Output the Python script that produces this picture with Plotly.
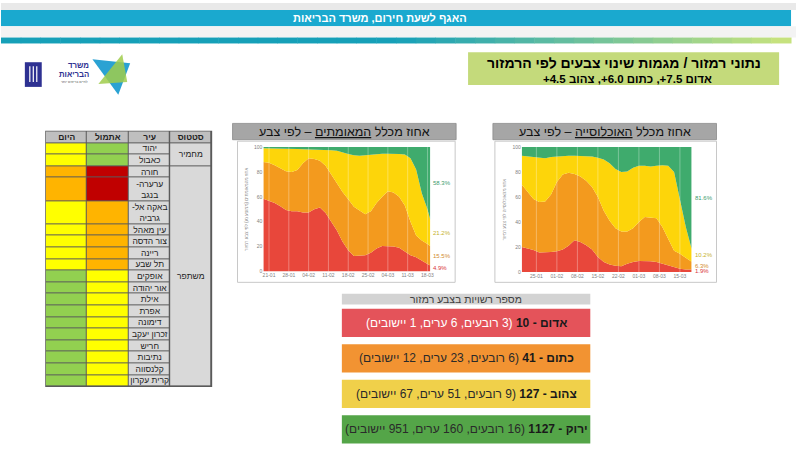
import plotly.graph_objects as go

FONT = "Liberation Sans, Arial, DejaVu Sans, sans-serif"
W, H = 800, 463

# share of confirmed cases by traffic-light colour (%)
cases_dates = ["2021-01-19", "2021-01-21", "2021-01-23", "2021-01-25", "2021-01-27", "2021-01-29", "2021-01-31",
               "2021-02-02", "2021-02-04", "2021-02-06", "2021-02-08", "2021-02-10", "2021-02-12", "2021-02-14",
               "2021-02-16", "2021-02-18", "2021-02-20", "2021-02-22", "2021-02-24", "2021-02-26", "2021-02-28",
               "2021-03-02", "2021-03-04", "2021-03-06", "2021-03-08", "2021-03-10", "2021-03-12", "2021-03-14",
               "2021-03-16", "2021-03-18", "2021-03-19"]
cases_red = [58.5, 57, 55, 52.5, 49.5, 48.5, 48.5, 47.5, 47.5, 50, 51.5, 47, 40, 33, 24, 17, 12.5, 13, 13, 15,
             18.5, 20.5, 20.5, 20, 19, 16, 13, 11.5, 8.5, 6, 4.9]
cases_orange = [29.5, 30.5, 30.5, 30.5, 31, 31.5, 33, 39.5, 43.5, 40.5, 37.5, 38, 38, 37.5, 40, 41, 39.5, 36, 33,
                33.5, 36.5, 39.5, 44, 43.5, 41, 37, 27, 17.5, 16.5, 16, 15.5]
cases_yellow = [11, 11.5, 13.5, 16, 18.3, 18.5, 17, 11.3, 7.2, 7.5, 9, 12.8, 19.5, 26.5, 31.5, 36.5, 41.5, 44, 47.5,
                45.5, 39.5, 34.7, 30.2, 31.2, 34.5, 41, 51, 53, 38, 28, 21.2]
cases_green = [1, 1, 1, 1, 1.2, 1.5, 1.5, 1.7, 1.8, 2, 2, 2.2, 2.5, 3, 4.5, 5.5, 6.5, 7, 6.5, 6, 5.5, 5.3, 5.3, 5.3,
               5.5, 6, 9, 18, 37, 50, 58.3]
cases_ticks = ["2021-01-21", "2021-01-28", "2021-02-04", "2021-02-11", "2021-02-18", "2021-02-25", "2021-03-04",
               "2021-03-11", "2021-03-18"]

# share of population by colour (%), right chart
pop_dates = ["2021-01-20", "2021-01-22", "2021-01-24", "2021-01-26", "2021-01-28", "2021-01-30",
             "2021-02-01", "2021-02-03", "2021-02-05", "2021-02-07", "2021-02-09", "2021-02-11", "2021-02-13",
             "2021-02-15", "2021-02-17", "2021-02-19", "2021-02-21", "2021-02-23", "2021-02-25", "2021-02-27",
             "2021-03-01", "2021-03-03", "2021-03-05", "2021-03-07", "2021-03-09", "2021-03-11", "2021-03-13",
             "2021-03-15", "2021-03-17", "2021-03-19"]
pop_red = [20, 19, 17.5, 15.5, 15.5, 16, 16.5, 18, 21, 25.5, 24, 21.5, 18, 12, 8, 6, 5, 4.5, 6.5, 8,
           8.7, 8.7, 8.5, 8, 6.5, 5, 3.5, 2.5, 2, 1.9]
pop_orange = [50, 45.5, 41, 40.5, 41, 46, 55.5, 60, 58.5, 53, 52.5, 51.5, 50, 48, 41, 35, 30, 28, 26, 27,
              31.3, 35.3, 35, 35, 29.5, 22, 13.5, 12, 9, 6.3]
pop_yellow = [23, 28, 33, 35, 34.5, 30, 20.5, 15, 13.5, 14.5, 16.5, 20, 24.5, 31.5, 41, 46, 47.5, 47.5, 48, 48.5,
              45, 41, 41, 42, 49.5, 58, 63, 43.5, 25, 10.2]
pop_green = [7, 7.5, 8.5, 9, 9, 8, 7.5, 7, 7, 7, 7, 7, 7.5, 8.5, 10, 13, 17.5, 20, 19.5, 16.5,
             15, 15, 15.5, 15, 14.5, 15, 20, 42, 64, 81.6]
pop_ticks = ["2021-01-25", "2021-02-01", "2021-02-08", "2021-02-15", "2021-02-22", "2021-03-01", "2021-03-08",
             "2021-03-15"]

# city table
table_columns = ["היום", "אתמול", "עיר", "סטטוס"]
cities = ["יהוד", "כאבול", "חורה", "ערערה-<br>בנגב", "באקה אל-<br>גרביה", "עין מאהל", "צור הדסה", "ריינה",
          "תל שבע", "אופקים", "אור יהודה", "אילת", "אפרת", "דימונה", "זכרון יעקב", "חריש", "נתיבות",
          "קלנסווה", "קרית עקרון"]
color_today = ["צהוב", "צהוב", "כתום", "כתום", "צהוב", "צהוב", "צהוב", "צהוב", "צהוב", "ירוק", "ירוק", "ירוק",
               "ירוק", "ירוק", "ירוק", "ירוק", "ירוק", "ירוק", "ירוק"]
color_yesterday = ["ירוק", "ירוק", "אדום", "אדום", "כתום", "כתום", "כתום", "כתום", "כתום", "צהוב", "צהוב",
                   "צהוב", "צהוב", "צהוב", "צהוב", "צהוב", "צהוב", "צהוב", "צהוב"]
status_names = ["מחמיר", "משתפר"]
status_counts = [2, 17]

# number of authorities per colour
light_names = ["אדום", "כתום", "צהוב", "ירוק"]
light_totals = [10, 41, 127, 1127]
light_quarters = [3, 6, 9, 16]
light_cities = [6, 23, 51, 160]
light_towns = [1, 12, 67, 951]

AREA_COLORS = ["#e8473b", "#f39a1e", "#fdd50a", "#3fab6d"]
LABEL_COLORS = ["#d8343c", "#d28a2c", "#c6b22a", "#3d9c6f"]
BOX_COLORS = ["#e4535a", "#f29332", "#f0d04a", "#54a548"]
CELL_COLORS = {"ירוק": 0, "צהוב": 1, "כתום": 2, "אדום": 3}
CELL_SCALE = ["#92d050", "#ffff00", "#ffb400", "#c00000", "#d9d9d9", "#bfbfbf"]
RLM = "\u200f"


def rtl(s):
    return "<br>".join(RLM + part + RLM for part in s.split("<br>"))


def X(p):
    return p / W


def Y(p):
    return 1 - p / H


def rect(x0, y0, x1, y1, fill, line=None, lw=0, layer="below"):
    return dict(type="rect", xref="paper", yref="paper", x0=X(x0), x1=X(x1), y0=Y(y1), y1=Y(y0),
                fillcolor=fill, line=dict(color=line or fill, width=lw), layer=layer)


def text(x, y, s, size, color="#000000", xanchor="center"):
    return dict(xref="paper", yref="paper", x=X(x), y=Y(y), text=rtl(s), showarrow=False,
                xanchor=xanchor, yanchor="middle", font=dict(size=size, color=color, family=FONT))


fig = go.Figure()
shapes = []
annotations = []

# ---- stacked area charts ----
for dates, shares, group, xa, ya, ticks in [
    (cases_dates, [cases_red, cases_orange, cases_yellow, cases_green], "cases", "x", "y", cases_ticks),
    (pop_dates, [pop_red, pop_orange, pop_yellow, pop_green], "pop", "x2", "y2", pop_ticks),
]:
    for vals, col in zip(shares, AREA_COLORS):
        fig.add_trace(go.Scatter(x=dates, y=vals, stackgroup=group, groupnorm="percent", mode="lines",
                                 line=dict(width=0, color=col), fillcolor=col, xaxis=xa, yaxis=ya,
                                 hoverinfo="skip", showlegend=False))
    base = 0
    for vals, col in zip(shares, LABEL_COLORS):
        v = vals[-1]
        annotations.append(dict(xref=xa, yref=ya, x=dates[-1], y=base + v / 2, text="%.1f%%" % v,
                                showarrow=False, xanchor="left", yanchor="middle", xshift=1,
                                font=dict(size=6, color=col, family=FONT)))
        base += v
    for t in ticks:
        shapes.append(dict(type="line", xref=xa, yref=ya + " domain", x0=t, x1=t, y0=0, y1=1,
                           line=dict(color="rgba(255,255,255,0.45)", width=0.7), layer="above"))

# ---- city table drawn as heatmap bricks ----
lines = [c.count("<br>") + 1 for c in cities]
y_edges = [0, 1]
for n in lines:
    y_edges.append(y_edges[-1] + n)
z_main = [[5, 5, 5]] + [[CELL_COLORS[a], CELL_COLORS[b], 4] for a, b in zip(color_today, color_yesterday)]
t_main = [["<b>%s</b>" % rtl(c) for c in table_columns[:3]]] + [["", "", rtl(c)] for c in cities]
scale = []
for i, c in enumerate(CELL_SCALE):
    scale += [[i / len(CELL_SCALE), c], [(i + 1) / len(CELL_SCALE), c]]
common = dict(colorscale=scale, zmin=-0.5, zmax=len(CELL_SCALE) - 0.5, showscale=False, xgap=1, ygap=1,
              texttemplate="%{text}", textfont=dict(size=8.5, color="#222222", family=FONT),
              hoverinfo="skip", xaxis="x3", yaxis="y3")
fig.add_trace(go.Heatmap(z=z_main, text=t_main, x=[0, 1, 2, 3], y=y_edges, **common))

s_edges = [0, 1]
pos = 1
for cnt in status_counts:
    pos += sum(lines[pos - 1:pos - 1 + cnt])
    s_edges.append(pos)
fig.add_trace(go.Heatmap(z=[[5]] + [[4] for _ in status_names],
                         text=[["<b>%s</b>" % rtl(table_columns[3])]] + [[rtl(s)] for s in status_names],
                         x=[3, 4], y=s_edges, **common))
shapes.append(rect(44.5, 129.5, 212.5, 389, "#5a5a5a"))

# ---- page furniture ----
shapes.append(rect(0, 0, 800, 7, "#e9e9e9"))
shapes.append(rect(0, 7, 795, 23.5, "#1aa9cf"))
shapes.append(rect(0, 23.5, 800, 35, "#f3f3f3"))
teal, lime = (22, 160, 184), (203, 228, 125)
n_steps = 40
for i in range(n_steps):
    t = max(0.0, (i + 0.5) / n_steps - 0.5) / 0.5
    col = "rgb(%d,%d,%d)" % tuple(round(a + (b - a) * t) for a, b in zip(teal, lime))
    shapes.append(rect(i * 795 / n_steps, 35, (i + 1) * 795 / n_steps + 0.5, 41, col))
annotations.append(text(381, 15.5, "<b>האגף לשעת חירום, משרד הבריאות</b>", 11, "#ffffff"))

shapes.append(rect(470, 50, 783, 83, "#c4da7b"))
annotations.append(text(627, 61, "<b>נתוני רמזור / מגמות שינוי צבעים לפי הרמזור</b>", 14))
annotations.append(text(630, 76.5, "<b>אדום 7.5+, כתום 6.0+, צהוב 4.5+</b>", 11.5))

# logo
shapes.append(rect(24, 60, 41, 85, "#2e3192"))
for lx in (29, 32.5, 36):
    shapes.append(dict(type="line", xref="paper", yref="paper", x0=X(lx), x1=X(lx), y0=Y(64), y1=Y(80),
                       line=dict(color="white", width=1.2)))
shapes.append(dict(type="path", xref="paper", yref="paper", fillcolor="#2aa2d3", line=dict(width=0),
                   path="M %f %f L %f %f L %f %f Z" % (X(92), Y(57), X(130), Y(61), X(118), Y(93))))
shapes.append(dict(type="path", xref="paper", yref="paper", fillcolor="rgba(160,205,75,0.85)",
                   line=dict(width=0),
                   path="M %f %f L %f %f L %f %f Z" % (X(98), Y(82), X(122), Y(52), X(127), Y(80))))
annotations.append(text(78, 63.5, "<b>משרד</b>", 7.8, "#2e3192"))
annotations.append(text(73, 72.5, "<b>הבריאות</b>", 7.8, "#2e3192"))
annotations.append(text(73.5, 80, "לחיים בריאים יותר", 3.5, "#555555"))

# chart frames and titles
for x0, x1, bx0, bx1, title in [
    (233, 458, 238, 457, "אחוז מכלל <u>המאומתים</u> – לפי צבע"),
    (495, 720, 497, 720, "אחוז מכלל <u>האוכלוסייה</u> – לפי צבע"),
]:
    shapes.append(rect(x0, 122, x1, 138.5, "#a6a6a6", "#8a8a8a", 0.8))
    shapes.append(rect(bx0, 140, bx1, 283, "#ffffff", "#c8c8c8", 1))
    annotations.append(text((x0 + x1) / 2, 130.5, title, 12.5, "#111111"))

# authorities per colour
shapes.append(rect(343, 294.5, 593, 305.5, "#d3d3d3"))
annotations.append(text(468, 300, "מספר רשויות בצבע רמזור", 10.5, "#404040"))
for i, name in enumerate(light_names):
    yc = 324 + 36 * i
    shapes.append(rect(343, yc - 14.3, 593, yc + 14.3, BOX_COLORS[i]))
    rest = "#ffffff" if i == 0 else "#2a2a2a"
    s = "<b>%s - %d</b> <span style=\"color:%s\">(%d רובעים, %d ערים, %d יישובים)</span>" % (
        name, light_totals[i], rest, light_quarters[i], light_cities[i], light_towns[i])
    annotations.append(text(468, yc, s, 12, "#1a1a1a"))

tickfont = dict(size=5, color="#7f7f7f", family=FONT)


def xcfg(dom, dates, ticks, anchor):
    return dict(domain=dom, anchor=anchor, type="date", range=[dates[0], dates[-1]], tickvals=ticks,
                tickformat="%d-%m", tickfont=tickfont, showgrid=False, zeroline=False, ticks="",
                showline=False, fixedrange=True)


def ycfg(dom, anchor, title):
    return dict(domain=dom, anchor=anchor, range=[0, 100], tickvals=[0, 20, 40, 60, 80, 100], ticksuffix="%",
                tickfont=tickfont, showgrid=False, zeroline=False, ticks="", fixedrange=True,
                title=dict(text=rtl(title), font=dict(size=4.5, color="#8c8c8c", family=FONT), standoff=5))


fig.update_layout(
    width=W, height=H, margin=dict(l=0, r=0, t=0, b=0),
    paper_bgcolor="white", plot_bgcolor="white", showlegend=False,
    font=dict(family=FONT),
    xaxis=xcfg([X(264), X(432)], cases_dates, cases_ticks, "y"),
    yaxis=ycfg([Y(272), Y(146)], "x", "אחוז מהמאומתים (ממוצע נע) לפי צבע רמזור"),
    xaxis2=xcfg([X(524), X(695)], pop_dates, pop_ticks, "y2"),
    yaxis2=ycfg([Y(272.5), Y(146)], "x2", "אחוז מהאוכלוסייה לפי צבע רמזור"),
    xaxis3=dict(domain=[X(45), X(212)], anchor="y3", range=[0, 4], visible=False, fixedrange=True),
    yaxis3=dict(domain=[Y(388.5), Y(130)], anchor="x3", range=[y_edges[-1], 0], visible=False,
                fixedrange=True),
    shapes=shapes,
    annotations=annotations,
)

fig.write_html("out.html", config={"displayModeBar": False},
               post_script="document.body.style.margin='0';")
